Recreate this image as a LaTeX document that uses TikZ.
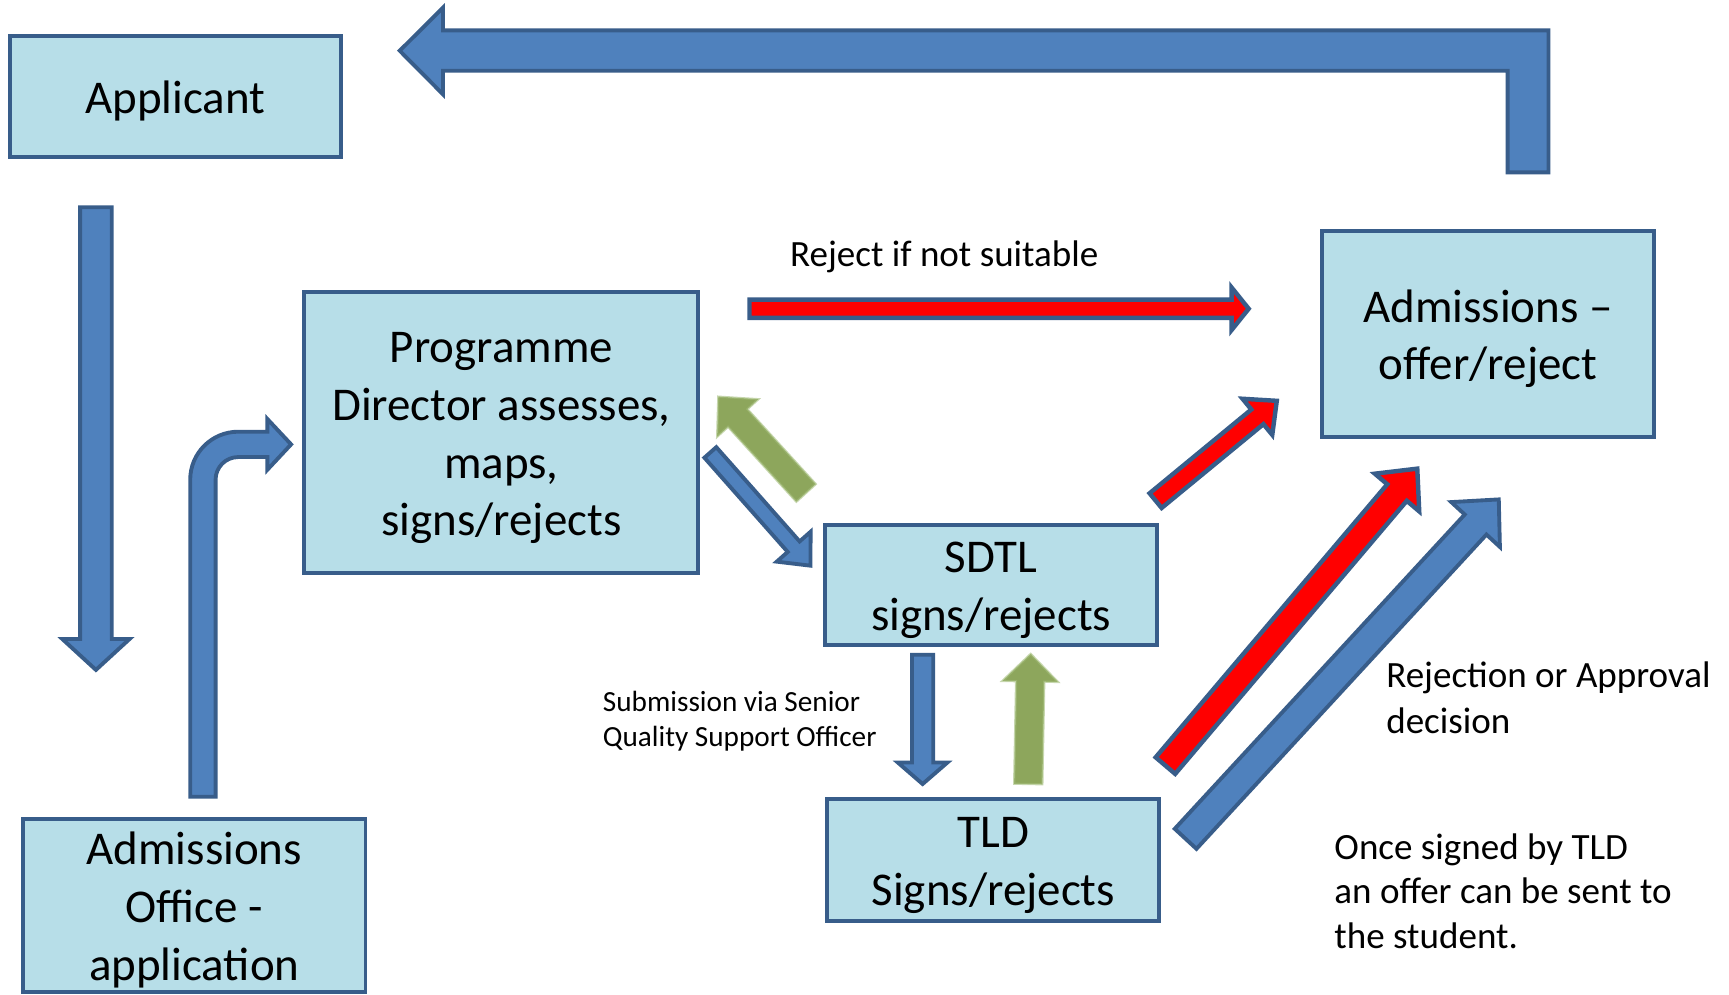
\documentclass[tikz,border=0pt]{standalone}
\usepackage{fontspec}
\setmainfont{Carlito}
\usetikzlibrary{calc}
\definecolor{boxfill}{HTML}{B7DEE8}
\definecolor{edgeblue}{HTML}{385D8A}
\definecolor{arrowblue}{HTML}{4F81BD}
\definecolor{arrowred}{HTML}{FF0000}
\definecolor{arrowgreen}{HTML}{8DA65C}
\definecolor{greenedge}{HTML}{A3BD7A}
\newcommand\bigfnt{\fontsize{42.6pt}{52.3pt}\selectfont}
\newcommand\midfnt{\fontsize{33.6pt}{41pt}\selectfont}
\newcommand\smallfnt{\fontsize{26.5pt}{31.8pt}\selectfont}
\newcommand\lnstrut{\rule[-0.25em]{0pt}{1.22em}}
\newcommand\topstrut{\rule{0pt}{0.97em}}
% #1 style, #2 tail, #3 tip, #4 shaft half width, #5 head half width, #6 head length
\newcommand\blockarrow[6]{%
  \coordinate (ba-neck) at ($(#3)!#6!(#2)$);
  \draw[#1] ($(#2)!#4!90:(#3)$) -- ($(ba-neck)!#4!90:(#3)$) -- ($(ba-neck)!#5!90:(#3)$)
    -- (#3) -- ($(ba-neck)!#5!-90:(#3)$) -- ($(ba-neck)!#4!-90:(#3)$)
    -- ($(#2)!#4!-90:(#3)$) -- cycle;}
\tikzset{
  flowbox/.style={draw=edgeblue, fill=boxfill, line width=3.5pt, inner sep=0pt,
    align=center, font=\bigfnt},
  bluearrow/.style={draw=edgeblue, fill=arrowblue, line width=3.5pt, line join=miter},
  redarrow/.style={draw=edgeblue, fill=arrowred, line width=4pt, line join=miter},
  greenarrow/.style={fill=arrowgreen, draw=greenedge, draw opacity=0.6, line width=2pt},
  label/.style={inner sep=0pt, align=left},
}
\begin{document}
\begin{tikzpicture}[x=1pt, y=-1pt]
\useasboundingbox (0,0) rectangle (1568,902);
\fill[white] (0,0) rectangle (1568,902);

% boxes
\node[flowbox, minimum width=300.5pt, minimum height=109.6pt] (applicant) at (159,87.7) {Applicant\lnstrut};
\node[flowbox, minimum width=357.3pt, minimum height=254.5pt] (pd) at (454.7,392)
  {Programme\lnstrut\\Director assesses,\lnstrut\\maps,\lnstrut\\signs/rejects\lnstrut};
\node[flowbox, minimum width=301.5pt, minimum height=186.5pt] (adm) at (1349.5,303)
  {Admissions –\lnstrut\\offer/reject\lnstrut};
\node[flowbox, minimum width=300.5pt, minimum height=109pt] (sdtl) at (898.8,530.25)
  {SDTL\lnstrut\\signs/rejects\lnstrut};
\node[flowbox, minimum width=301pt, minimum height=111pt] (tld) at (900.8,779.75)
  {TLD\lnstrut\\Signs/rejects\lnstrut};
\node[flowbox, minimum width=310.5pt, minimum height=154.4pt] (aoffice) at (176.2,821.35)
  {Admissions\lnstrut\\Office -\lnstrut\\application\lnstrut};

% labels
\node[label, font=\midfnt, anchor=base west] (lreject) at (716.4,241.8) {Reject if not suitable};
\node[label, font=\smallfnt, anchor=north west] (lsub) at (546.6,619.3)
  {\topstrut Submission via Senior\\Quality Support Officer};
\node[label, font=\fontsize{33.6pt}{41.7pt}\selectfont, anchor=north west] (ldec) at (1257,590.7)
  {\topstrut Rejection or Approval\\decision};
\node[label, font=\fontsize{33.6pt}{40.2pt}\selectfont, anchor=north west] (lonce) at (1210,746.8)
  {\topstrut Once signed by TLD\\an offer can be sent to\\the student.};

% top return arrow: Admissions -> Applicant
\coordinate (ret-tip) at (362.5,46);
\draw[bluearrow] (1367.2,156.3) -- (1367.2,64.2) -- (401.7,64.2) -- (401.7,85.5) -- (ret-tip)
  -- (401.7,7) -- (401.7,27.5) -- (1404.3,27.5) -- (1404.3,156.3) -- cycle;

% applicant down arrow
\coordinate (ld-t) at (87,188);
\coordinate (ld-h) at (87,607.5);
\blockarrow{bluearrow}{ld-t}{ld-h}{14.3pt}{30.5pt}{28pt}

% bent arrow: Admissions Office -> Programme Director
\coordinate (bent-tip) at (264,403);
\draw[bluearrow] (172.5,722.5) -- (172.5,435) .. controls (172.5,410.97) and (191.97,391.5) .. (216,391.5)
  -- (242.5,391.5) -- (242.5,380) -- (bent-tip) -- (242.5,426) -- (242.5,414.5) -- (216,414.5)
  .. controls (204.68,414.5) and (195.5,423.68) .. (195.5,435) -- (195.5,722.5) -- cycle;

% reject if not suitable
\coordinate (rj-t) at (679.7,280);
\coordinate (rj-h) at (1132.4,280);
\blockarrow{redarrow}{rj-t}{rj-h}{8.3pt}{19.3pt}{15.5pt}

% PD -> SDTL
\coordinate (ps-t) at (644.2,410.3);
\coordinate (ps-h) at (735,513);
\blockarrow{bluearrow}{ps-t}{ps-h}{7.2pt}{20.5pt}{23pt}

% SDTL -> PD (green)
\coordinate (sp-t) at (731,447);
\coordinate (sp-h) at (651.4,359.7);
\blockarrow{greenarrow}{sp-t}{sp-h}{11.9pt}{25.3pt}{26.2pt}

% SDTL -> Admissions (red)
\coordinate (sa-t) at (1048,454);
\coordinate (sa-h) at (1157.9,363.5);
\blockarrow{redarrow}{sa-t}{sa-h}{8.6pt}{21.2pt}{22.8pt}

% SDTL -> TLD
\coordinate (st-t) at (836.7,593.75);
\coordinate (st-h) at (836.7,711);
\blockarrow{bluearrow}{st-t}{st-h}{9.6pt}{22.5pt}{19.5pt}

% TLD -> SDTL (green)
\coordinate (ts-t) at (932.5,711);
\coordinate (ts-h) at (934.7,593);
\blockarrow{greenarrow}{ts-t}{ts-h}{12.8pt}{25.2pt}{25pt}

% TLD -> Admissions (red)
\coordinate (ta-t) at (1056.9,694.3);
\coordinate (ta-h) at (1285.3,425);
\blockarrow{redarrow}{ta-t}{ta-h}{11.6pt}{26.4pt}{28.4pt}

% TLD -> Admissions (blue)
\coordinate (tb-t) at (1075.2,760.7);
\coordinate (tb-h) at (1359.2,452.9);
\blockarrow{bluearrow}{tb-t}{tb-h}{13.4pt}{30pt}{31pt}
\end{tikzpicture}
\end{document}
